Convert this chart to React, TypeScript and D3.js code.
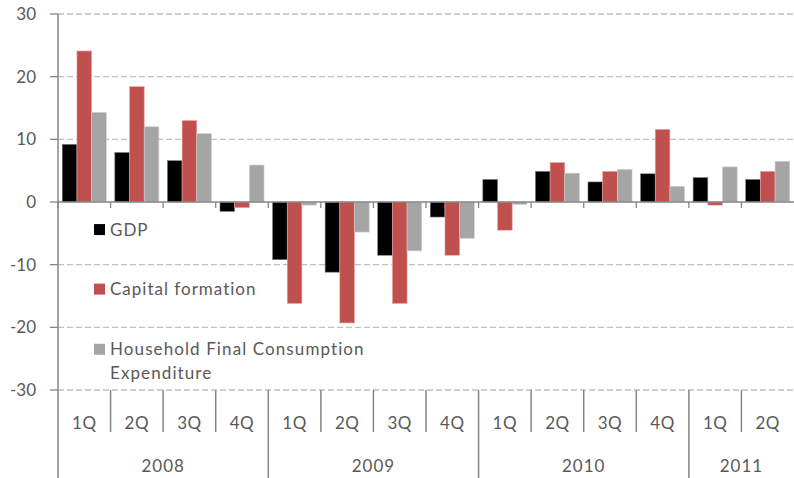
import React from "react";
import * as d3 from "d3";

const quarters = ["1Q", "2Q", "3Q", "4Q", "1Q", "2Q", "3Q", "4Q", "1Q", "2Q", "3Q", "4Q", "1Q", "2Q"];
const yearLabels = ["2008", "2009", "2010", "2011"];
const yearCounts = [4, 4, 4, 2];
const seriesNames = ["GDP", "Capital formation", "Household Final Consumption Expenditure"];
const gdp = [9.2, 7.9, 6.6, -1.5, -9.2, -11.2, -8.5, -2.4, 3.6, 4.9, 3.2, 4.5, 3.9, 3.6];
const capital = [24.1, 18.4, 13.0, -0.9, -16.2, -19.3, -16.2, -8.5, -4.5, 6.3, 4.9, 11.6, -0.5, 4.9];
const household = [14.3, 12.0, 10.9, 5.9, -0.5, -4.8, -7.8, -5.8, -0.4, 4.6, 5.2, 2.5, 5.6, 6.5];
const yTicks = [-30, -20, -10, 0, 10, 20, 30];

const W = 794;
const H = 478;
const left = 58;
const right = 794;
const top = 14;
const bottom = 390;
const colors = ["#000000", "#C0504D", "#A5A5A5"];
const strokes = ["#7f7f7f", "#e8a9a8", "#d0d0d0"];
const textColor = "#595959";
const axisColor = "#868686";
const font = "Lato, 'Open Sans', sans-serif";

export default function App() {
  const idx = quarters.map((_, i) => String(i));
  const x = d3.scaleBand<string>().domain(idx).range([left, right]).padding(0);
  const bw = x.bandwidth();
  const gap = bw * 0.162;
  const xs = d3.scaleBand<string>().domain(["0", "1", "2"]).range([gap / 2, bw - gap / 2]).padding(0);
  const y = d3.scaleLinear().domain([-30, 30]).range([bottom, top]);
  const data = [gdp, capital, household];
  const y0 = y(0);

  const yearStarts: number[] = [];
  let acc = 0;
  yearCounts.forEach((c) => {
    yearStarts.push(acc);
    acc += c;
  });

  const legendY = [y(-4.4), y(-13.9), y(-23.5)];

  return (
    <svg width={W} height={H} style={{ position: "absolute", left: 0, top: 0, background: "#fff" }} fontFamily={font}>
      {yTicks.filter((t) => t !== 0).map((t) => (
        <line key={"g" + t} x1={left} x2={right} y1={y(t)} y2={y(t)} stroke="#c0c0c0" strokeWidth={1.3} strokeDasharray="6,3" />
      ))}
      {yTicks.map((t) => (
        <g key={"t" + t}>
          <line x1={left - 8} x2={left} y1={y(t)} y2={y(t)} stroke={axisColor} strokeWidth={1.3} />
          <text x={36} y={y(t)} dy="0.35em" textAnchor="end" fontSize={17} fill={textColor}>
            {t}
          </text>
        </g>
      ))}
      {data.map((vals, s) =>
        vals.map((v, i) => {
          const bx = (x(String(i)) as number) + (xs(String(s)) as number);
          const yv = y(v);
          return (
            <rect
              key={s + "-" + i}
              x={bx}
              y={Math.min(yv, y0)}
              width={xs.bandwidth()}
              height={Math.abs(yv - y0)}
              fill={colors[s]}
              stroke={strokes[s]}
              strokeWidth={0.6}
            />
          );
        })
      )}
      <line x1={left} x2={right} y1={y0} y2={y0} stroke={axisColor} strokeWidth={1.5} />
      {idx.map((k, i) => (
        <line key={"zt" + i} x1={x(k)} x2={x(k)} y1={y0} y2={y0 + 6} stroke={axisColor} strokeWidth={1.3} />
      ))}
      <line x1={left} x2={left} y1={top} y2={H} stroke={axisColor} strokeWidth={1.5} />
      {idx.map((k, i) => {
        if (i === 0) return null;
        const isYear = yearStarts.includes(i);
        return (
          <line
            key={"cs" + i}
            x1={x(k)}
            x2={x(k)}
            y1={bottom}
            y2={isYear ? H : 432}
            stroke={axisColor}
            strokeWidth={1.5}
          />
        );
      })}
      {quarters.map((q, i) => (
        <text
          key={"q" + i}
          x={(x(String(i)) as number) + bw / 2}
          y={429}
          textAnchor="middle"
          fontSize={17}
          letterSpacing={0.5}
          fill={textColor}
        >
          {q}
        </text>
      ))}
      {yearLabels.map((yr, j) => {
        const s = yearStarts[j];
        const e = s + yearCounts[j];
        const x1 = x(String(s)) as number;
        const x2 = e >= quarters.length ? right : (x(String(e)) as number);
        return (
          <text key={"y" + yr} x={(x1 + x2) / 2} y={472} textAnchor="middle" fontSize={17} letterSpacing={1} fill={textColor}>
            {yr}
          </text>
        );
      })}
      {seriesNames.map((name, s) => (
        <g key={"l" + s}>
          <rect x={94} y={legendY[s] - 5.5} width={11} height={11} fill={colors[s]} />
          {s < 2 ? (
            <text x={110} y={legendY[s]} dy="0.35em" fontSize={17} letterSpacing={1} fill={textColor}>
              {name}
            </text>
          ) : (
            <text x={110} y={legendY[s]} dy="0.35em" fontSize={17} letterSpacing={1.1} fill={textColor}>
              <tspan x={110}>Household Final Consumption</tspan>
              <tspan x={110} dy={24}>Expenditure</tspan>
            </text>
          )}
        </g>
      ))}
    </svg>
  );
}
